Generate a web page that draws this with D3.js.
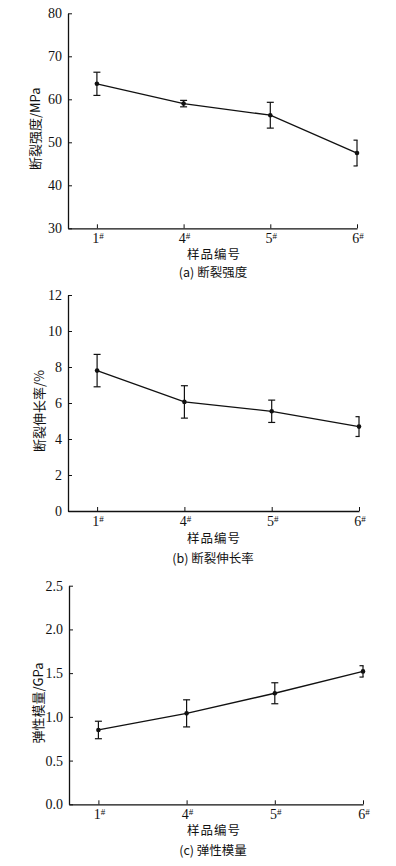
<!DOCTYPE html>
<html>
<head>
<meta charset="utf-8">
<script src="https://cdn.jsdelivr.net/npm/d3@7"></script>
<style>
  body { margin: 0; background: #fff; }
  text { fill: #111; }
</style>
</head>
<body>
<div id="vis"></div>
<script>
// Data
const SAMPLES = ["1", "4", "5", "6"];

const STRENGTH = [63.6, 59.0, 56.3, 47.5];
const STRENGTH_ERR = [2.7, 0.75, 3.0, 3.0];

const ELONGATION = [7.8, 6.06, 5.54, 4.69];
const ELONGATION_ERR = [0.9, 0.9, 0.62, 0.55];

const MODULUS = [0.85, 1.04, 1.27, 1.52];
const MODULUS_ERR = [0.1, 0.155, 0.12, 0.065];

const STRENGTH_TICKS = [30, 40, 50, 60, 70, 80];
const ELONGATION_TICKS = [0, 2, 4, 6, 8, 10, 12];
const MODULUS_TICKS = [0.0, 0.5, 1.0, 1.5, 2.0, 2.5];

const WIDTH = 396;
const HEIGHT = 866;

const SVG = d3.select("#vis")
              .append("svg")
              .attr("width", WIDTH)
              .attr("height", HEIGHT)
              .style("background", "#fff");

const SERIF = "'Liberation Serif', 'DejaVu Serif', serif";
const CJK = "'Noto Sans CJK SC', sans-serif";

// one entry per panel (layout only)
const PANELS = [
  {values: STRENGTH, errs: STRENGTH_ERR, ticks: STRENGTH_TICKS, fmt: d3.format("d"),
   left: 68, right: 357, top: 13.3, bottom: 228.3,
   ylabel: "断裂强度/MPa", labelX: 34, caption: "(a) 断裂强度", xlabelY: 259, captionY: 277},
  {values: ELONGATION, errs: ELONGATION_ERR, ticks: ELONGATION_TICKS, fmt: d3.format("d"),
   left: 68, right: 359, top: 295, bottom: 511,
   ylabel: "断裂伸长率/%", labelX: 38, caption: "(b) 断裂伸长率", xlabelY: 543, captionY: 563},
  {values: MODULUS, errs: MODULUS_ERR, ticks: MODULUS_TICKS, fmt: d3.format(".1f"),
   left: 69, right: 363, top: 585.7, bottom: 804.3,
   ylabel: "弹性模量/GPa", labelX: 37, caption: "(c) 弹性模量", xlabelY: 835, captionY: 855}
];

PANELS.forEach((p, k) => {
  const X_SCALE = d3.scaleLinear()
                    .domain([-1 / 3, SAMPLES.length - 1])
                    .range([p.left, p.right]);

  const Y_SCALE = d3.scaleLinear()
                    .domain(d3.extent(p.ticks))
                    .range([p.bottom, p.top]);

  const g = SVG.append("g");

  // Y axis
  const yAxis = g.append("g")
                 .attr("transform", "translate(" + p.left + ",0)")
                 .call(d3.axisLeft(Y_SCALE).tickValues(p.ticks).tickFormat(p.fmt)
                         .tickSizeInner(-4).tickSizeOuter(0).tickPadding(6));
  yAxis.select(".domain").attr("stroke", "#111").attr("stroke-width", 1.3);
  yAxis.selectAll(".tick line").attr("stroke", "#111").attr("stroke-width", 1);
  yAxis.selectAll("text").attr("font-family", SERIF).attr("font-size", "14px").attr("fill", "#222");

  // X axis
  const xAxis = g.append("g")
                 .attr("transform", "translate(0," + p.bottom + ")")
                 .call(d3.axisBottom(X_SCALE).tickValues(d3.range(SAMPLES.length))
                         .tickFormat("").tickSizeInner(-4).tickSizeOuter(0));
  xAxis.select(".domain").attr("stroke", "#111").attr("stroke-width", 1.3);
  xAxis.selectAll(".tick line").attr("stroke", "#111").attr("stroke-width", 1);

  // tick labels with superscript #
  const lbl = g.append("g").selectAll("text")
               .data(SAMPLES)
               .enter()
               .append("text")
               .attr("x", (d, i) => X_SCALE(i) + 1)
               .attr("y", p.bottom + 15)
               .attr("text-anchor", "middle")
               .attr("font-family", SERIF)
               .attr("font-size", "14px")
               .attr("fill", "#222");
  lbl.append("tspan").text((d) => d);
  lbl.append("tspan").attr("font-size", "9px").attr("dy", -4).text("#");

  // line
  const line = d3.line()
                 .x((d, i) => X_SCALE(i))
                 .y((d) => Y_SCALE(d));
  g.append("path")
   .datum(p.values)
   .attr("d", line)
   .attr("fill", "none")
   .attr("stroke", "#111")
   .attr("stroke-width", 1.3);

  // error bars, caps cut at the right end of the axis like the original
  const eb = g.append("g")
              .selectAll("g")
              .data(p.values)
              .enter()
              .append("g")
              .attr("stroke", "#111")
              .attr("stroke-width", 1.2);
  eb.append("line")
    .attr("x1", (d, i) => X_SCALE(i)).attr("x2", (d, i) => X_SCALE(i))
    .attr("y1", (d, i) => Y_SCALE(d + p.errs[i]))
    .attr("y2", (d, i) => Y_SCALE(d - p.errs[i]));
  [1, -1].forEach((s) => {
    eb.append("line")
      .attr("x1", (d, i) => X_SCALE(i) - 3.5)
      .attr("x2", (d, i) => Math.min(X_SCALE(i) + 3.5, p.right + 0.6))
      .attr("y1", (d, i) => Y_SCALE(d + s * p.errs[i]))
      .attr("y2", (d, i) => Y_SCALE(d + s * p.errs[i]));
  });

  // points
  g.append("g").selectAll("circle")
   .data(p.values)
   .enter()
   .append("circle")
   .attr("cx", (d, i) => X_SCALE(i))
   .attr("cy", (d) => Y_SCALE(d))
   .attr("r", 2.3)
   .attr("fill", "#111");

  // y label
  g.append("text")
   .attr("transform", "translate(" + p.labelX + "," + ((p.top + p.bottom) / 2 + 8) + ") rotate(-90)")
   .attr("text-anchor", "middle")
   .attr("dominant-baseline", "central")
   .attr("font-family", CJK)
   .attr("font-size", "13px")
   .text(p.ylabel);

  // x label + caption
  g.append("text")
   .attr("x", 214).attr("y", p.xlabelY)
   .attr("text-anchor", "middle")
   .attr("font-family", CJK)
   .attr("font-size", "12.5px")
   .attr("letter-spacing", "1px")
   .text("样品编号");

  g.append("text")
   .attr("x", 213).attr("y", p.captionY)
   .attr("text-anchor", "middle")
   .attr("font-family", CJK)
   .attr("font-size", "12.5px")
   .text(p.caption);
});
</script>
</body>
</html>
